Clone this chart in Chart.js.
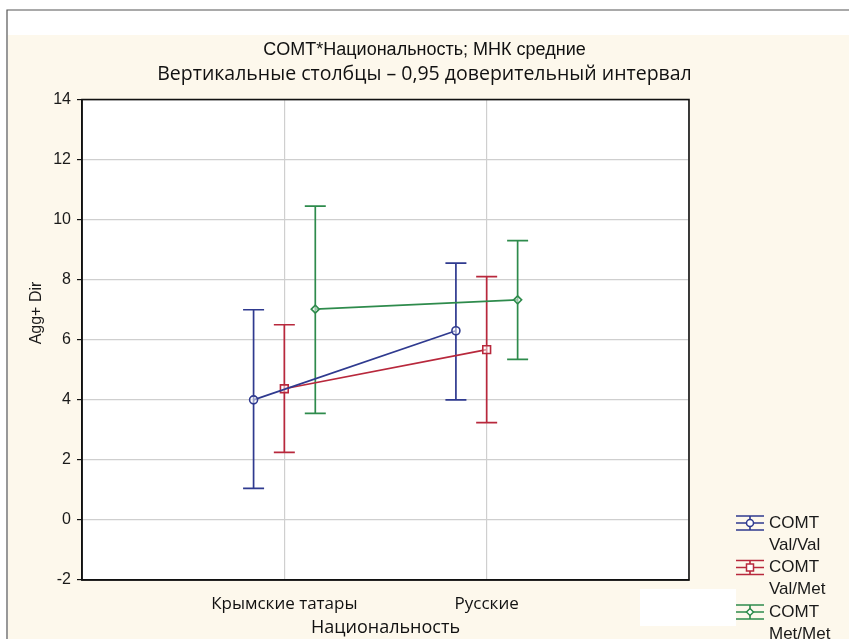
<!DOCTYPE html>
<html>
<head>
<meta charset="utf-8">
<script src="https://cdn.jsdelivr.net/npm/chart.js@4/dist/chart.umd.min.js"></script>
<style>
html,body{margin:0;padding:0;background:#fff;}
#wrap{width:849px;height:639px;position:relative;}
</style>
</head>
<body>
<div id="wrap"><canvas id="c" width="849" height="639"></canvas></div>
<script>
// ---- data ----
const categories = ['Крымские татары', 'Русские'];
const seriesLabels = ['COMT Val/Val', 'COMT Val/Met', 'COMT Met/Met'];
const valValMean = [4.0, 6.3];
const valValLow  = [1.05, 4.0];
const valValHigh = [7.0, 8.55];
const valMetMean = [4.37, 5.67];
const valMetLow  = [2.25, 3.24];
const valMetHigh = [6.5, 8.1];
const metMetMean = [7.02, 7.33];
const metMetLow  = [3.55, 5.35];
const metMetHigh = [10.45, 9.3];
const yTicks = [-2, 0, 2, 4, 6, 8, 10, 12, 14];
const titleLine1 = 'COMT*Национальность; МНК средние';
const titleLine2 = 'Вертикальные столбцы – 0,95 доверительный интервал';
const xAxisTitle = 'Национальность';
const yAxisTitle = 'Agg+ Dir';

// ---- styles ----
const colors = ['#2f3a8f', '#b8283c', '#2e8b4c'];
const shapes = ['circle', 'rect', 'rectRot'];
const radii = [4, 5.5, 4];
const offsets = [-0.152, 0, 0.153];
const means = [valValMean, valMetMean, metMetMean];
const lows = [valValLow, valMetLow, metMetLow];
const highs = [valValHigh, valMetHigh, metMetHigh];

const datasets = seriesLabels.map((lab, s) => ({
  label: lab,
  data: categories.map((c, i) => ({x: i + 1 + offsets[s], y: means[s][i]})),
  lows: lows[s],
  highs: highs[s],
  borderColor: colors[s],
  backgroundColor: 'rgba(255,255,255,0.6)',
  borderWidth: 1.7,
  pointStyle: shapes[s],
  pointRadius: radii[s],
  pointBorderWidth: 1.6,
  pointBackgroundColor: 'rgba(255,255,255,0.5)',
  pointBorderColor: colors[s],
  showLine: true,
  tension: 0,
  fill: false
}));

const FONT_MAIN = "'Open Sans', 'Noto Sans', sans-serif";
const FONT_ARIAL = "'Liberation Sans', Arial, sans-serif";

const bgPlugin = {
  id: 'bg',
  beforeDraw(chart) {
    const ctx = chart.ctx, a = chart.chartArea;
    ctx.save();
    ctx.fillStyle = '#ffffff';
    ctx.fillRect(0, 0, chart.width, chart.height);
    ctx.fillStyle = '#fdf8ec';
    ctx.fillRect(8, 35, chart.width - 8, chart.height - 35);
    ctx.strokeStyle = '#555';
    ctx.lineWidth = 1.2;
    ctx.beginPath();
    ctx.moveTo(7, chart.height); ctx.lineTo(7, 10); ctx.lineTo(chart.width, 10);
    ctx.stroke();
    ctx.fillStyle = '#ffffff';
    ctx.fillRect(a.left, a.top, a.right - a.left, a.bottom - a.top);
    ctx.restore();
  }
};

const errPlugin = {
  id: 'errbars',
  beforeDatasetsDraw(chart) {
    const ctx = chart.ctx, xs = chart.scales.x, ys = chart.scales.y;
    ctx.save();
    chart.data.datasets.forEach((ds) => {
      ctx.strokeStyle = ds.borderColor;
      ctx.lineWidth = 1.7;
      ds.data.forEach((p, i) => {
        const px = xs.getPixelForValue(p.x);
        const yl = ys.getPixelForValue(ds.lows[i]);
        const yh = ys.getPixelForValue(ds.highs[i]);
        ctx.beginPath();
        ctx.moveTo(px, yl); ctx.lineTo(px, yh);
        ctx.moveTo(px - 10.5, yl); ctx.lineTo(px + 10.5, yl);
        ctx.moveTo(px - 10.5, yh); ctx.lineTo(px + 10.5, yh);
        ctx.stroke();
      });
    });
    ctx.restore();
  }
};

function drawMarker(ctx, style, x, y, r, color) {
  ctx.save();
  ctx.strokeStyle = color; ctx.lineWidth = 1.5; ctx.fillStyle = '#fff';
  ctx.beginPath();
  if (style === 'circle') { ctx.arc(x, y, r, 0, Math.PI * 2); }
  else if (style === 'rect') { ctx.rect(x - r, y - r, 2 * r, 2 * r); }
  else { ctx.moveTo(x, y - r); ctx.lineTo(x + r, y); ctx.lineTo(x, y + r); ctx.lineTo(x - r, y); ctx.closePath(); }
  ctx.fill(); ctx.stroke();
  ctx.restore();
}

const overlayPlugin = {
  id: 'overlay',
  afterDraw(chart) {
    const ctx = chart.ctx, a = chart.chartArea;
    ctx.save();
    ctx.strokeStyle = '#111';
    ctx.lineWidth = 1.6;
    ctx.strokeRect(a.left, a.top, a.right - a.left, a.bottom - a.top);
    ctx.fillStyle = '#1a1a1a';
    ctx.font = '16px ' + FONT_ARIAL;
    ctx.textAlign = 'center';
    ctx.textBaseline = 'middle';
    ctx.translate(37, 313);
    ctx.rotate(-Math.PI / 2);
    ctx.fillText(yAxisTitle, 0, 0);
    ctx.restore();

    ctx.save();
    ctx.fillStyle = '#ffffff';
    ctx.fillRect(640, 589, 96, 37);
    ctx.restore();

    ctx.save();
    chart.data.datasets.forEach((ds, s) => {
      const cy = 523 + s * 44.5;
      const cx = 750;
      ctx.strokeStyle = ds.borderColor;
      ctx.lineWidth = 1.6;
      ctx.beginPath();
      ctx.moveTo(cx - 14, cy - 7); ctx.lineTo(cx + 14, cy - 7);
      ctx.moveTo(cx - 14, cy + 7); ctx.lineTo(cx + 14, cy + 7);
      ctx.moveTo(cx - 14, cy); ctx.lineTo(cx + 14, cy);
      ctx.moveTo(cx, cy - 7); ctx.lineTo(cx, cy + 7);
      ctx.stroke();
      drawMarker(ctx, ds.pointStyle, cx, cy, 3.5, ds.borderColor);
      ctx.fillStyle = '#1a1a1a';
      ctx.font = '17px ' + FONT_ARIAL;
      ctx.textAlign = 'left';
      ctx.textBaseline = 'middle';
      const parts = ds.label.split(' ');
      ctx.fillText(parts[0], 769, cy);
      ctx.fillText(parts[1], 769, cy + 22);
    });
    ctx.restore();
  }
};

new Chart(document.getElementById('c'), {
  type: 'line',
  data: { datasets },
  plugins: [bgPlugin, errPlugin, overlayPlugin],
  options: {
    responsive: false,
    animation: false,
    devicePixelRatio: 1,
    layout: { padding: 0 },
    plugins: {
      legend: { display: false },
      tooltip: { enabled: false },
      title: {
        display: true,
        text: titleLine1,
        color: '#111',
        font: { family: FONT_ARIAL, size: 18, weight: 'normal', lineHeight: 1.4 },
        padding: { top: 37, bottom: 0 }
      },
      subtitle: {
        display: true,
        text: titleLine2,
        color: '#111',
        font: { family: FONT_MAIN, size: 19.5, weight: 'normal', lineHeight: 1.3 },
        padding: { top: 0, bottom: 12 }
      }
    },
    scales: {
      x: {
        type: 'linear',
        min: 0, max: 3,
        afterBuildTicks(scale) { scale.ticks = [0, 1, 2, 3].map(v => ({value: v})); },
        afterFit(scale) { scale.height = 59; },
        ticks: {
          callback: (v) => categories[v - 1] || '',
          color: '#111',
          font: { family: FONT_MAIN, size: 17 },
          padding: 14,
          maxRotation: 0,
          autoSkip: false
        },
        grid: { color: '#cfcfcf', lineWidth: 1.2, drawTicks: false },
        border: { display: true, color: '#111', width: 1.6 },
        title: {
          display: true, text: xAxisTitle, color: '#111',
          font: { family: FONT_MAIN, size: 18 },
          padding: { top: 0, bottom: 0 }
        }
      },
      y: {
        type: 'linear',
        min: -2, max: 14,
        afterBuildTicks(scale) { scale.ticks = yTicks.map(v => ({value: v})); },
        afterFit(scale) { scale.width = 82; },
        ticks: {
          color: '#1a1a1a',
          font: { family: FONT_ARIAL, size: 16 },
          padding: 6
        },
        grid: { color: '#cfcfcf', lineWidth: 1.2, tickColor: '#111', tickLength: 5 },
        border: { display: true, color: '#111', width: 1.6 }
      },
      y2: {
        position: 'right',
        display: true,
        afterFit(scale) { scale.width = 160; },
        ticks: { display: false },
        grid: { display: false, drawTicks: false },
        border: { display: false }
      }
    }
  }
});
</script>
</body>
</html>
